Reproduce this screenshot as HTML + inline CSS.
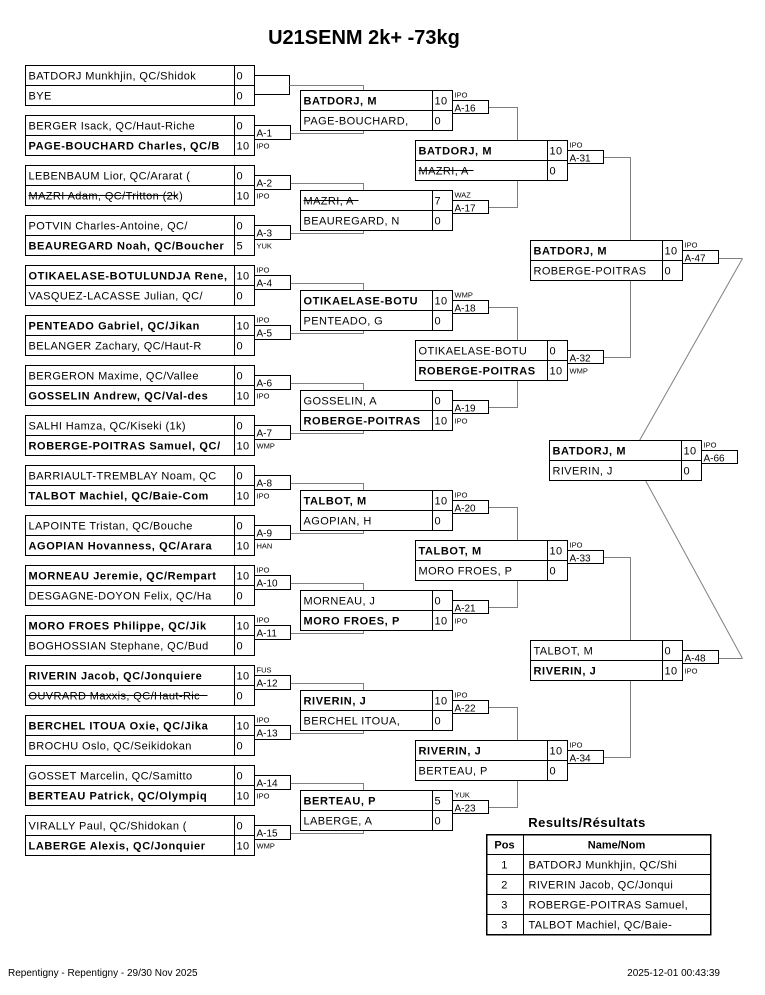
<!DOCTYPE html>
<html><head><meta charset="utf-8"><style>
body{margin:0;background:#fff;width:765px;height:990px;overflow:hidden}
svg{font-family:"Liberation Sans",sans-serif;}
.b rect.m{fill:#fff;stroke:#000;stroke-width:1}
.l{fill:#fff;stroke:#000;stroke-width:1}
.ln{stroke:#000;fill:none;stroke-width:1}
.j{stroke:#808080;fill:none;stroke-width:1}
.n{font-size:11px;letter-spacing:0.4px}
.nb{font-size:11px;font-weight:bold;letter-spacing:0.6px}
.lt{font-size:10px}
.nt{font-size:7.5px}
.st{stroke:#000;stroke-width:1}
</style></head><body>
<svg width="765" height="990" viewBox="0 0 765 990" xmlns="http://www.w3.org/2000/svg" shape-rendering="crispEdges">
<text x="364" y="44" text-anchor="middle" font-size="20" font-weight="bold">U21SENM 2k+ -73kg</text>

<!-- ROUND 1 -->
<g class="b" transform="translate(25.5,65.5)"><path class="ln" d="M229,10H264V29H229"/><path class="j" d="M264,20H338V25"/><rect class="m" width="229" height="40"/><path class="ln" d="M0,20H229M209,0V40"/><text class="n" x="3" y="14">BATDORJ Munkhjin, QC/Shidok</text><text class="n" x="211" y="14">0</text><text class="n" x="3" y="34">BYE</text><text class="n" x="211" y="34">0</text></g>

<g class="b" transform="translate(25.5,115.5)"><path class="j" d="M264,18H338V15"/><rect class="m" width="229" height="40"/><path class="ln" d="M0,20H229M209,0V40"/><text class="n" x="3" y="14">BERGER Isack, QC/Haut-Riche</text><text class="n" x="211" y="14">0</text><text class="nb" x="3" y="34">PAGE-BOUCHARD Charles, QC/B</text><text class="n" x="211" y="34">10</text><rect class="l" x="229" y="10" width="36" height="14"/><text class="lt" x="231" y="21">A-1</text><text class="nt" x="231" y="33">IPO</text></g>

<g class="b" transform="translate(25.5,165.5)"><path class="j" d="M264,18H338V25"/><rect class="m" width="229" height="40"/><path class="ln" d="M0,20H229M209,0V40"/><text class="n" x="3" y="14">LEBENBAUM Lior, QC/Ararat (</text><text class="n" x="211" y="14">0</text><text class="n" x="3" y="34">MAZRI Adam, QC/Tritton (2k)</text><line class="st" x1="3" y1="30" x2="152" y2="30"/><text class="n" x="211" y="34">10</text><rect class="l" x="229" y="10" width="36" height="14"/><text class="lt" x="231" y="21">A-2</text><text class="nt" x="231" y="33">IPO</text></g>

<g class="b" transform="translate(25.5,215.5)"><path class="j" d="M264,18H338V15"/><rect class="m" width="229" height="40"/><path class="ln" d="M0,20H229M209,0V40"/><text class="n" x="3" y="14">POTVIN Charles-Antoine, QC/</text><text class="n" x="211" y="14">0</text><text class="nb" x="3" y="34">BEAUREGARD Noah, QC/Boucher</text><text class="n" x="211" y="34">5</text><rect class="l" x="229" y="10" width="36" height="14"/><text class="lt" x="231" y="21">A-3</text><text class="nt" x="231" y="33">YUK</text></g>

<g class="b" transform="translate(25.5,265.5)"><path class="j" d="M264,18H338V25"/><rect class="m" width="229" height="40"/><path class="ln" d="M0,20H229M209,0V40"/><text class="nb" x="3" y="14">OTIKAELASE-BOTULUNDJA Rene,</text><text class="n" x="211" y="14">10</text><text class="n" x="3" y="34">VASQUEZ-LACASSE Julian, QC/</text><text class="n" x="211" y="34">0</text><rect class="l" x="229" y="10" width="36" height="14"/><text class="lt" x="231" y="21">A-4</text><text class="nt" x="231" y="7">IPO</text></g>

<g class="b" transform="translate(25.5,315.5)"><path class="j" d="M264,18H338V15"/><rect class="m" width="229" height="40"/><path class="ln" d="M0,20H229M209,0V40"/><text class="nb" x="3" y="14">PENTEADO Gabriel, QC/Jikan</text><text class="n" x="211" y="14">10</text><text class="n" x="3" y="34">BELANGER Zachary, QC/Haut-R</text><text class="n" x="211" y="34">0</text><rect class="l" x="229" y="10" width="36" height="14"/><text class="lt" x="231" y="21">A-5</text><text class="nt" x="231" y="7">IPO</text></g>

<g class="b" transform="translate(25.5,365.5)"><path class="j" d="M264,18H338V25"/><rect class="m" width="229" height="40"/><path class="ln" d="M0,20H229M209,0V40"/><text class="n" x="3" y="14">BERGERON Maxime, QC/Vallee</text><text class="n" x="211" y="14">0</text><text class="nb" x="3" y="34">GOSSELIN Andrew, QC/Val-des</text><text class="n" x="211" y="34">10</text><rect class="l" x="229" y="10" width="36" height="14"/><text class="lt" x="231" y="21">A-6</text><text class="nt" x="231" y="33">IPO</text></g>

<g class="b" transform="translate(25.5,415.5)"><path class="j" d="M264,18H338V15"/><rect class="m" width="229" height="40"/><path class="ln" d="M0,20H229M209,0V40"/><text class="n" x="3" y="14">SALHI Hamza, QC/Kiseki (1k)</text><text class="n" x="211" y="14">0</text><text class="nb" x="3" y="34">ROBERGE-POITRAS Samuel, QC/</text><text class="n" x="211" y="34">10</text><rect class="l" x="229" y="10" width="36" height="14"/><text class="lt" x="231" y="21">A-7</text><text class="nt" x="231" y="33">WMP</text></g>

<g class="b" transform="translate(25.5,465.5)"><path class="j" d="M264,18H338V25"/><rect class="m" width="229" height="40"/><path class="ln" d="M0,20H229M209,0V40"/><text class="n" x="3" y="14">BARRIAULT-TREMBLAY Noam, QC</text><text class="n" x="211" y="14">0</text><text class="nb" x="3" y="34">TALBOT Machiel, QC/Baie-Com</text><text class="n" x="211" y="34">10</text><rect class="l" x="229" y="10" width="36" height="14"/><text class="lt" x="231" y="21">A-8</text><text class="nt" x="231" y="33">IPO</text></g>

<g class="b" transform="translate(25.5,515.5)"><path class="j" d="M264,18H338V15"/><rect class="m" width="229" height="40"/><path class="ln" d="M0,20H229M209,0V40"/><text class="n" x="3" y="14">LAPOINTE Tristan, QC/Bouche</text><text class="n" x="211" y="14">0</text><text class="nb" x="3" y="34">AGOPIAN Hovanness, QC/Arara</text><text class="n" x="211" y="34">10</text><rect class="l" x="229" y="10" width="36" height="14"/><text class="lt" x="231" y="21">A-9</text><text class="nt" x="231" y="33">HAN</text></g>

<g class="b" transform="translate(25.5,565.5)"><path class="j" d="M264,18H338V25"/><rect class="m" width="229" height="40"/><path class="ln" d="M0,20H229M209,0V40"/><text class="nb" x="3" y="14">MORNEAU Jeremie, QC/Rempart</text><text class="n" x="211" y="14">10</text><text class="n" x="3" y="34">DESGAGNE-DOYON Felix, QC/Ha</text><text class="n" x="211" y="34">0</text><rect class="l" x="229" y="10" width="36" height="14"/><text class="lt" x="231" y="21">A-10</text><text class="nt" x="231" y="7">IPO</text></g>

<g class="b" transform="translate(25.5,615.5)"><path class="j" d="M264,18H338V15"/><rect class="m" width="229" height="40"/><path class="ln" d="M0,20H229M209,0V40"/><text class="nb" x="3" y="14">MORO FROES Philippe, QC/Jik</text><text class="n" x="211" y="14">10</text><text class="n" x="3" y="34">BOGHOSSIAN Stephane, QC/Bud</text><text class="n" x="211" y="34">0</text><rect class="l" x="229" y="10" width="36" height="14"/><text class="lt" x="231" y="21">A-11</text><text class="nt" x="231" y="7">IPO</text></g>

<g class="b" transform="translate(25.5,665.5)"><path class="j" d="M264,18H338V25"/><rect class="m" width="229" height="40"/><path class="ln" d="M0,20H229M209,0V40"/><text class="nb" x="3" y="14">RIVERIN Jacob, QC/Jonquiere</text><text class="n" x="211" y="14">10</text><text class="n" x="3" y="34">OUVRARD Maxxis, QC/Haut-Ric</text><line class="st" x1="3" y1="30" x2="182" y2="30"/><text class="n" x="211" y="34">0</text><rect class="l" x="229" y="10" width="36" height="14"/><text class="lt" x="231" y="21">A-12</text><text class="nt" x="231" y="7">FUS</text></g>

<g class="b" transform="translate(25.5,715.5)"><path class="j" d="M264,18H338V15"/><rect class="m" width="229" height="40"/><path class="ln" d="M0,20H229M209,0V40"/><text class="nb" x="3" y="14">BERCHEL ITOUA Oxie, QC/Jika</text><text class="n" x="211" y="14">10</text><text class="n" x="3" y="34">BROCHU Oslo, QC/Seikidokan</text><text class="n" x="211" y="34">0</text><rect class="l" x="229" y="10" width="36" height="14"/><text class="lt" x="231" y="21">A-13</text><text class="nt" x="231" y="7">IPO</text></g>

<g class="b" transform="translate(25.5,765.5)"><path class="j" d="M264,18H338V25"/><rect class="m" width="229" height="40"/><path class="ln" d="M0,20H229M209,0V40"/><text class="n" x="3" y="14">GOSSET Marcelin, QC/Samitto</text><text class="n" x="211" y="14">0</text><text class="nb" x="3" y="34">BERTEAU Patrick, QC/Olympiq</text><text class="n" x="211" y="34">10</text><rect class="l" x="229" y="10" width="36" height="14"/><text class="lt" x="231" y="21">A-14</text><text class="nt" x="231" y="33">IPO</text></g>

<g class="b" transform="translate(25.5,815.5)"><path class="j" d="M264,18H338V15"/><rect class="m" width="229" height="40"/><path class="ln" d="M0,20H229M209,0V40"/><text class="n" x="3" y="14">VIRALLY Paul, QC/Shidokan (</text><text class="n" x="211" y="14">0</text><text class="nb" x="3" y="34">LABERGE Alexis, QC/Jonquier</text><text class="n" x="211" y="34">10</text><rect class="l" x="229" y="10" width="36" height="14"/><text class="lt" x="231" y="21">A-15</text><text class="nt" x="231" y="33">WMP</text></g>

<!-- ROUND 2 -->
<g class="b" transform="translate(300.5,90.5)"><path class="j" d="M188,17H217V50"/><rect class="m" width="152" height="40"/><path class="ln" d="M0,20H152M132,0V40"/><text class="nb" x="3" y="14">BATDORJ, M</text><text class="n" x="134" y="14">10</text><text class="n" x="3" y="34">PAGE-BOUCHARD,</text><text class="n" x="134" y="34">0</text><rect class="l" x="152" y="10" width="36" height="13"/><text class="lt" x="154" y="21">A-16</text><text class="nt" x="154" y="7">IPO</text></g>

<g class="b" transform="translate(300.5,190.5)"><path class="j" d="M188,17H217V-10"/><rect class="m" width="152" height="40"/><path class="ln" d="M0,20H152M132,0V40"/><text class="n" x="3" y="14">MAZRI, A</text><line class="st" x1="3" y1="10" x2="58" y2="10"/><text class="n" x="134" y="14">7</text><text class="n" x="3" y="34">BEAUREGARD, N</text><text class="n" x="134" y="34">0</text><rect class="l" x="152" y="10" width="36" height="13"/><text class="lt" x="154" y="21">A-17</text><text class="nt" x="154" y="7">WAZ</text></g>

<g class="b" transform="translate(300.5,290.5)"><path class="j" d="M188,17H217V50"/><rect class="m" width="152" height="40"/><path class="ln" d="M0,20H152M132,0V40"/><text class="nb" x="3" y="14">OTIKAELASE-BOTU</text><text class="n" x="134" y="14">10</text><text class="n" x="3" y="34">PENTEADO, G</text><text class="n" x="134" y="34">0</text><rect class="l" x="152" y="10" width="36" height="13"/><text class="lt" x="154" y="21">A-18</text><text class="nt" x="154" y="7">WMP</text></g>

<g class="b" transform="translate(300.5,390.5)"><path class="j" d="M188,17H217V-10"/><rect class="m" width="152" height="40"/><path class="ln" d="M0,20H152M132,0V40"/><text class="n" x="3" y="14">GOSSELIN, A</text><text class="n" x="134" y="14">0</text><text class="nb" x="3" y="34">ROBERGE-POITRAS</text><text class="n" x="134" y="34">10</text><rect class="l" x="152" y="10" width="36" height="13"/><text class="lt" x="154" y="21">A-19</text><text class="nt" x="154" y="33">IPO</text></g>

<g class="b" transform="translate(300.5,490.5)"><path class="j" d="M188,17H217V50"/><rect class="m" width="152" height="40"/><path class="ln" d="M0,20H152M132,0V40"/><text class="nb" x="3" y="14">TALBOT, M</text><text class="n" x="134" y="14">10</text><text class="n" x="3" y="34">AGOPIAN, H</text><text class="n" x="134" y="34">0</text><rect class="l" x="152" y="10" width="36" height="13"/><text class="lt" x="154" y="21">A-20</text><text class="nt" x="154" y="7">IPO</text></g>

<g class="b" transform="translate(300.5,590.5)"><path class="j" d="M188,17H217V-10"/><rect class="m" width="152" height="40"/><path class="ln" d="M0,20H152M132,0V40"/><text class="n" x="3" y="14">MORNEAU, J</text><text class="n" x="134" y="14">0</text><text class="nb" x="3" y="34">MORO FROES, P</text><text class="n" x="134" y="34">10</text><rect class="l" x="152" y="10" width="36" height="13"/><text class="lt" x="154" y="21">A-21</text><text class="nt" x="154" y="33">IPO</text></g>

<g class="b" transform="translate(300.5,690.5)"><path class="j" d="M188,17H217V50"/><rect class="m" width="152" height="40"/><path class="ln" d="M0,20H152M132,0V40"/><text class="nb" x="3" y="14">RIVERIN, J</text><text class="n" x="134" y="14">10</text><text class="n" x="3" y="34">BERCHEL ITOUA,</text><text class="n" x="134" y="34">0</text><rect class="l" x="152" y="10" width="36" height="13"/><text class="lt" x="154" y="21">A-22</text><text class="nt" x="154" y="7">IPO</text></g>

<g class="b" transform="translate(300.5,790.5)"><path class="j" d="M188,17H217V-10"/><rect class="m" width="152" height="40"/><path class="ln" d="M0,20H152M132,0V40"/><text class="nb" x="3" y="14">BERTEAU, P</text><text class="n" x="134" y="14">5</text><text class="n" x="3" y="34">LABERGE, A</text><text class="n" x="134" y="34">0</text><rect class="l" x="152" y="10" width="36" height="13"/><text class="lt" x="154" y="21">A-23</text><text class="nt" x="154" y="7">YUK</text></g>

<!-- ROUND 3 -->
<g class="b" transform="translate(415.5,140.5)"><path class="j" d="M188,17H215V100"/><rect class="m" width="152" height="40"/><path class="ln" d="M0,20H152M132,0V40"/><text class="nb" x="3" y="14">BATDORJ, M</text><text class="n" x="134" y="14">10</text><text class="n" x="3" y="34">MAZRI, A</text><line class="st" x1="3" y1="30" x2="58" y2="30"/><text class="n" x="134" y="34">0</text><rect class="l" x="152" y="10" width="36" height="13"/><text class="lt" x="154" y="21">A-31</text><text class="nt" x="154" y="7">IPO</text></g>

<g class="b" transform="translate(415.5,340.5)"><path class="j" d="M188,17H215V-60"/><rect class="m" width="152" height="40"/><path class="ln" d="M0,20H152M132,0V40"/><text class="n" x="3" y="14">OTIKAELASE-BOTU</text><text class="n" x="134" y="14">0</text><text class="nb" x="3" y="34">ROBERGE-POITRAS</text><text class="n" x="134" y="34">10</text><rect class="l" x="152" y="10" width="36" height="13"/><text class="lt" x="154" y="21">A-32</text><text class="nt" x="154" y="33">WMP</text></g>

<g class="b" transform="translate(415.5,540.5)"><path class="j" d="M188,17H215V100"/><rect class="m" width="152" height="40"/><path class="ln" d="M0,20H152M132,0V40"/><text class="nb" x="3" y="14">TALBOT, M</text><text class="n" x="134" y="14">10</text><text class="n" x="3" y="34">MORO FROES, P</text><text class="n" x="134" y="34">0</text><rect class="l" x="152" y="10" width="36" height="13"/><text class="lt" x="154" y="21">A-33</text><text class="nt" x="154" y="7">IPO</text></g>

<g class="b" transform="translate(415.5,740.5)"><path class="j" d="M188,17H215V-60"/><rect class="m" width="152" height="40"/><path class="ln" d="M0,20H152M132,0V40"/><text class="nb" x="3" y="14">RIVERIN, J</text><text class="n" x="134" y="14">10</text><text class="n" x="3" y="34">BERTEAU, P</text><text class="n" x="134" y="34">0</text><rect class="l" x="152" y="10" width="36" height="13"/><text class="lt" x="154" y="21">A-34</text><text class="nt" x="154" y="7">IPO</text></g>

<!-- ROUND 4 -->
<g class="b" transform="translate(530.5,240.5)"><path class="j" d="M188,18H212" /><line class="j" x1="212" y1="18" x2="109" y2="200" shape-rendering="auto"/><rect class="m" width="152" height="40"/><path class="ln" d="M0,20H152M132,0V40"/><text class="nb" x="3" y="14">BATDORJ, M</text><text class="n" x="134" y="14">10</text><text class="n" x="3" y="34">ROBERGE-POITRAS</text><text class="n" x="134" y="34">0</text><rect class="l" x="152" y="10" width="36" height="13"/><text class="lt" x="154" y="21">A-47</text><text class="nt" x="154" y="7">IPO</text></g>

<g class="b" transform="translate(530.5,640.5)"><path class="j" d="M188,18H212"/><line class="j" x1="212" y1="18" x2="115" y2="-160" shape-rendering="auto"/><rect class="m" width="152" height="40"/><path class="ln" d="M0,20H152M132,0V40"/><text class="n" x="3" y="14">TALBOT, M</text><text class="n" x="134" y="14">0</text><text class="nb" x="3" y="34">RIVERIN, J</text><text class="n" x="134" y="34">10</text><rect class="l" x="152" y="10" width="36" height="13"/><text class="lt" x="154" y="21">A-48</text><text class="nt" x="154" y="33">IPO</text></g>

<!-- FINAL -->
<g class="b" transform="translate(549.5,440.5)"><rect class="m" width="152" height="40"/><path class="ln" d="M0,20H152M132,0V40"/><text class="nb" x="3" y="14">BATDORJ, M</text><text class="n" x="134" y="14">10</text><text class="n" x="3" y="34">RIVERIN, J</text><text class="n" x="134" y="34">0</text><rect class="l" x="152" y="10" width="36" height="13"/><text class="lt" x="154" y="21">A-66</text><text class="nt" x="154" y="7">IPO</text></g>

<!-- RESULTS -->
<text x="587" y="827" text-anchor="middle" font-size="13" font-weight="bold" letter-spacing="0.5">Results/Résultats</text>
<g transform="translate(486.5,834.5)">
<rect width="224" height="100" fill="#fff" stroke="#000" stroke-width="1.5"/>
<path class="ln" d="M0,20H224M0,40H224M0,60H224M0,80H224M37,0V100"/>
<text x="18" y="14" text-anchor="middle" font-size="11" font-weight="bold">Pos</text>
<text x="130" y="14" text-anchor="middle" font-size="11" font-weight="bold">Name/Nom</text>
<text class="n" x="18" y="34" text-anchor="middle">1</text><text class="n" x="42" y="34">BATDORJ Munkhjin, QC/Shi</text>
<text class="n" x="18" y="54" text-anchor="middle">2</text><text class="n" x="42" y="54">RIVERIN Jacob, QC/Jonqui</text>
<text class="n" x="18" y="74" text-anchor="middle">3</text><text class="n" x="42" y="74">ROBERGE-POITRAS Samuel,</text>
<text class="n" x="18" y="94" text-anchor="middle">3</text><text class="n" x="42" y="94">TALBOT Machiel, QC/Baie-</text>
</g>

<text x="8" y="976" font-size="10">Repentigny - Repentigny - 29/30 Nov 2025</text>
<text x="720" y="976" font-size="10" text-anchor="end">2025-12-01 00:43:39</text>
</svg>
</body></html>
